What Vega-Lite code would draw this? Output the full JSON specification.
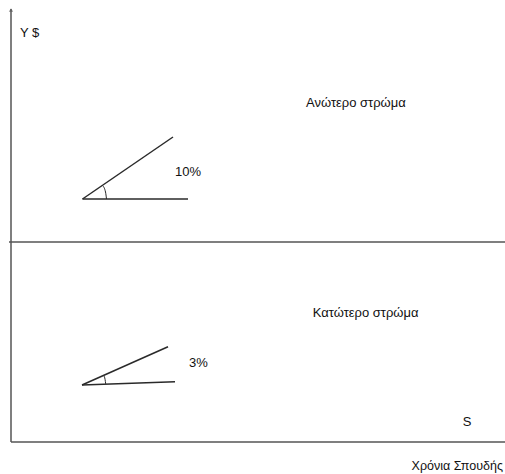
{
  "$schema": "https://vega.github.io/schema/vega-lite/v6.json",
  "width": 505,
  "height": 474,
  "autosize": "none",
  "padding": 0,
  "background": "white",
  "config": {"view": {"stroke": null}},
  "datasets": {
    "segments": [
      {"part": "y-axis", "x": 11, "y": 32, "x2": 11, "y2": 465},
      {"part": "x-axis", "x": 11, "y": 32, "x2": 505, "y2": 32},
      {"part": "divider", "x": 9, "y": 232, "x2": 505, "y2": 232}
    ],
    "rays": [
      {"part": "upper-ray", "x": 82.5, "y": 275, "x2": 173, "y2": 337},
      {"part": "upper-base", "x": 82.5, "y": 275, "x2": 188, "y2": 275},
      {"part": "lower-ray", "x": 82, "y": 89, "x2": 168, "y2": 127.3},
      {"part": "lower-base", "x": 82, "y": 89, "x2": 175, "y2": 92.3}
    ],
    "arcs": [
      {"arc": "upper", "i": 0, "x": 106.5, "y": 275},
      {"arc": "upper", "i": 1, "x": 105.5, "y": 282},
      {"arc": "upper", "i": 2, "x": 102.5, "y": 288.6},
      {"arc": "lower", "i": 0, "x": 105.7, "y": 90.1},
      {"arc": "lower", "i": 1, "x": 105.1, "y": 94.4},
      {"arc": "lower", "i": 2, "x": 103.7, "y": 98.6}
    ],
    "arrow": [{"x": 11, "y": 464}],
    "labels": [
      {"text": "Y $", "x": 20, "y": 441, "a": "left"},
      {"text": "Ανώτερο στρώμα", "x": 306, "y": 371.3, "a": "left"},
      {"text": "10%", "x": 175, "y": 302.3, "a": "left"},
      {"text": "Κατώτερο στρώμα", "x": 312.7, "y": 161, "a": "left"},
      {"text": "3%", "x": 189, "y": 111, "a": "left"},
      {"text": "S", "x": 467, "y": 52.3, "a": "center"},
      {"text": "Χρόνια Σπουδής", "x": 503, "y": 8, "a": "right"}
    ]
  },
  "encoding": {
    "x": {"field": "x", "type": "quantitative", "scale": {"domain": [0, 505]}, "axis": null},
    "y": {"field": "y", "type": "quantitative", "scale": {"domain": [0, 474]}, "axis": null}
  },
  "layer": [
    {
      "data": {"name": "segments"},
      "mark": {"type": "rule", "color": "#555555", "strokeWidth": 1.5},
      "encoding": {"x2": {"field": "x2"}, "y2": {"field": "y2"}}
    },
    {
      "data": {"name": "rays"},
      "mark": {"type": "rule", "color": "#2a2a2a", "strokeWidth": 1.5},
      "encoding": {"x2": {"field": "x2"}, "y2": {"field": "y2"}}
    },
    {
      "data": {"name": "arcs"},
      "mark": {"type": "line", "color": "#2a2a2a", "strokeWidth": 1, "interpolate": "monotone"},
      "encoding": {"detail": {"field": "arc"}, "order": {"field": "i"}}
    },
    {
      "data": {"name": "arrow"},
      "mark": {"type": "point", "shape": "triangle-up", "filled": true, "color": "#555555", "size": 18}
    },
    {
      "data": {"name": "labels"},
      "transform": [{"filter": "datum.a == 'left'"}],
      "mark": {"type": "text", "align": "left", "baseline": "middle", "font": "Liberation Sans", "fontSize": 13, "color": "#111111"},
      "encoding": {"text": {"field": "text"}}
    },
    {
      "data": {"name": "labels"},
      "transform": [{"filter": "datum.a == 'center'"}],
      "mark": {"type": "text", "align": "center", "baseline": "middle", "font": "Liberation Sans", "fontSize": 13, "color": "#111111"},
      "encoding": {"text": {"field": "text"}}
    },
    {
      "data": {"name": "labels"},
      "transform": [{"filter": "datum.a == 'right'"}],
      "mark": {"type": "text", "align": "right", "baseline": "middle", "font": "Liberation Sans", "fontSize": 12.5, "color": "#111111"},
      "encoding": {"text": {"field": "text"}}
    }
  ]
}
